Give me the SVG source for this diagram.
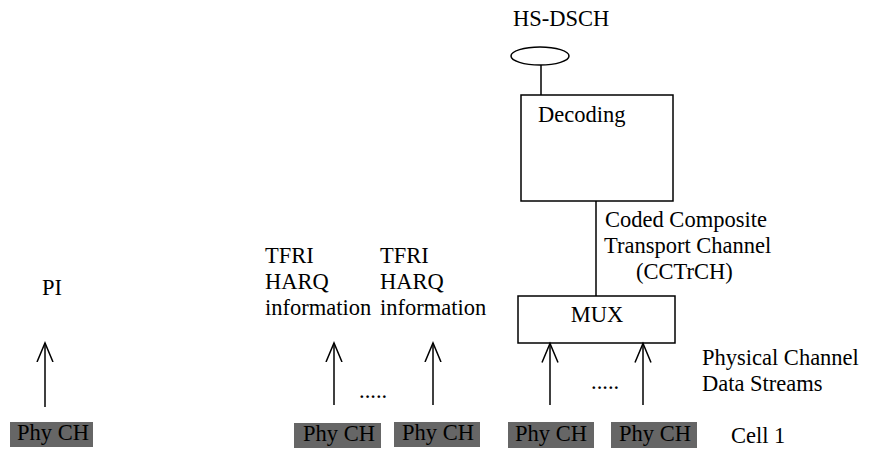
<svg xmlns="http://www.w3.org/2000/svg" width="871" height="452" viewBox="0 0 871 452">
<style>
text{font-family:"Liberation Serif","Times New Roman",serif;font-size:22.5px;fill:#000}
.box{fill:#fff;stroke:#000;stroke-width:1.5}
.ph{fill:#666}
.ln{stroke:#000;stroke-width:1.5;fill:none}
.c{text-anchor:middle}
</style>
<defs>
<marker id="ah" markerWidth="22" markerHeight="20" refX="19" refY="10" orient="auto" markerUnits="userSpaceOnUse" viewBox="0 0 22 20">
<path d="M0,2 L19,10 L0,18" fill="none" stroke="#000" stroke-width="1.5"/>
</marker>
</defs>
<g id="hsdsch">
<text x="513" y="26">HS-DSCH</text>
<ellipse cx="540" cy="56" rx="29" ry="9" class="ln"/>
</g>
<g id="decoding">
<rect x="521" y="95" width="152" height="106" class="box"/>
<text x="538" y="122">Decoding</text>
</g>
<g id="mux">
<rect x="518" y="296" width="157" height="47" class="box"/>
<text x="597" y="322" class="c">MUX</text>
</g>
<g id="cctrch-label">
<text x="605" y="227">Coded Composite</text>
<text x="604" y="253">Transport Channel</text>
<text x="636" y="279">(CCTrCH)</text>
</g>
<g id="pi-label"><text x="42" y="295">PI</text></g>
<g id="tfri1"><text x="265" y="263">TFRI</text><text x="265" y="289">HARQ</text><text x="265" y="315">information</text></g>
<g id="tfri2"><text x="380" y="263">TFRI</text><text x="380" y="289">HARQ</text><text x="380" y="315">information</text></g>
<g id="pcds-label"><text x="702" y="365">Physical Channel</text><text x="702" y="391">Data Streams</text></g>
<g id="cell1"><text x="731" y="443">Cell 1</text></g>
<g id="phy0"><rect x="10" y="422" width="83" height="25" class="ph"/><text x="53" y="440" class="c">Phy CH</text></g>
<g id="phy1"><rect x="294" y="423" width="87" height="25" class="ph"/><text x="339" y="441" class="c">Phy CH</text></g>
<g id="phy2"><rect x="394" y="422" width="86" height="25" class="ph"/><text x="438" y="440" class="c">Phy CH</text></g>
<g id="phy3"><rect x="508" y="422" width="86" height="26" class="ph"/><text x="551" y="441" class="c">Phy CH</text></g>
<g id="phy4"><rect x="611" y="422" width="86" height="26" class="ph"/><text x="655" y="441" class="c">Phy CH</text></g>
<g id="dots">
<text x="359" y="398">.....</text>
<text x="591" y="389">.....</text>
</g>
<g id="connectors">
<line x1="541" y1="65" x2="541" y2="95" class="ln"/>
<line x1="596" y1="201" x2="596" y2="296" class="ln"/>
<line x1="45" y1="407" x2="45" y2="343" class="ln" marker-end="url(#ah)"/>
<line x1="334" y1="405" x2="334" y2="343" class="ln" marker-end="url(#ah)"/>
<line x1="433" y1="405" x2="433" y2="343" class="ln" marker-end="url(#ah)"/>
<line x1="550" y1="405" x2="550" y2="343.5" class="ln" marker-end="url(#ah)"/>
<line x1="643" y1="405" x2="643" y2="343.5" class="ln" marker-end="url(#ah)"/>
</g>
</svg>
